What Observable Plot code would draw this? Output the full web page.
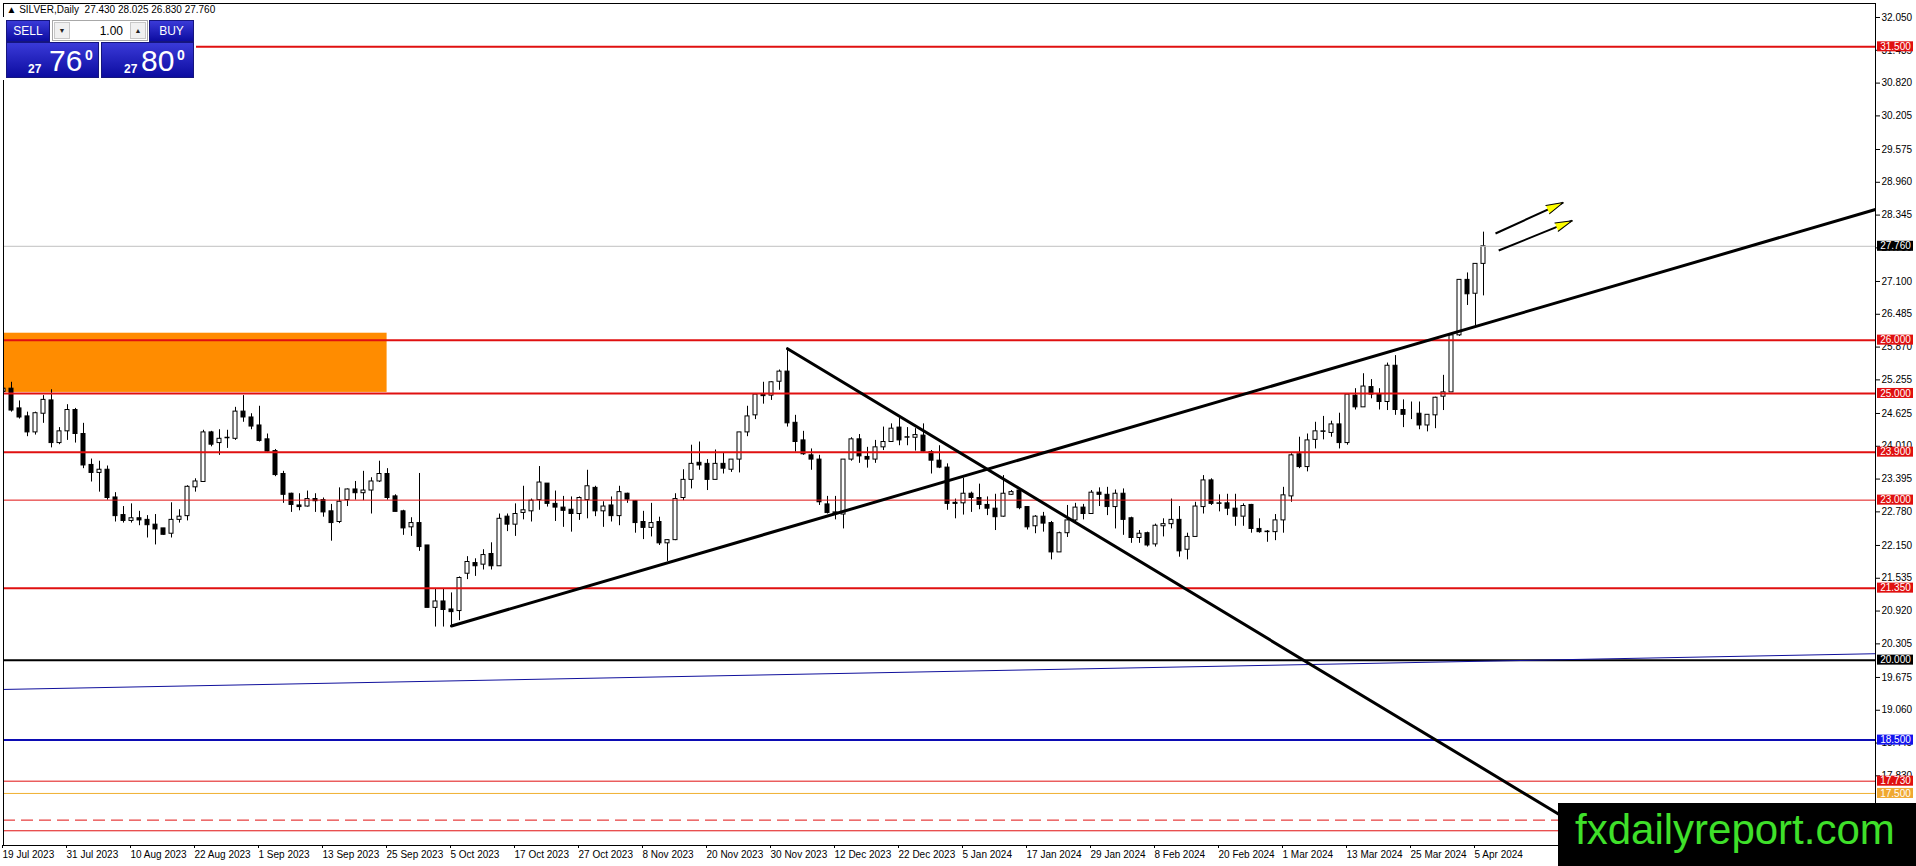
<!DOCTYPE html>
<html>
<head>
<meta charset="utf-8">
<script src="https://cdn.jsdelivr.net/npm/d3@7"></script>
<script src="https://cdn.jsdelivr.net/npm/@observablehq/plot@0.6"></script>
<style>
  body { margin: 0; background: #fff; overflow: hidden; font-family: "Liberation Sans", Arial, sans-serif; }
  #wrap { position: relative; width: 1916px; height: 866px; }
  #panel { position: absolute; left: 3px; top: 17px; width: 193px; height: 63px; background: #fff; }
  .blue { position: absolute; color: #fff; background: linear-gradient(#3a3ad8, #0c0ca0); box-sizing: border-box; border: 1px solid #15157e; }
  .hdr { height: 22px; top: 3px; font-size: 12px; line-height: 20px; text-align: center; }
  .box { top: 25px; width: 93px; height: 36px; }
  .box span { position: absolute; line-height: 1; white-space: nowrap; }
  .small { font-size: 12px; font-weight: bold; top: 20px; }
  .big { font-size: 30px; top: 3px; }
  .sup { font-size: 14px; font-weight: bold; top: 5px; }
  #spin { position: absolute; left: 49px; top: 3px; width: 96px; height: 21px; box-sizing: border-box; border: 1px solid #a8a8a8; background: #fff; font-size: 12px; }
  #spin .b { position: absolute; top: 1px; width: 16px; height: 17px; box-sizing: border-box; border: 1px solid #c8c8c8; background: #f0f0f0; font-size: 7px; line-height: 15px; text-align: center; color: #222; }
  #spin .v { position: absolute; right: 24px; top: 3px; }
  #logo { position: absolute; left: 1558px; top: 803px; width: 358px; height: 63px; background: #000; }
  #logo span { position: absolute; left: 17px; top: 6px; font-size: 42px; line-height: 1; color: #3fe02a; white-space: nowrap; }
</style>
</head>
<body>
<div id="wrap">
  <div id="chart"></div>
  <div id="panel">
    <div class="blue hdr" style="left:3px;width:44px;">SELL</div>
    <div id="spin"><div class="b" style="left:1px;">&#9660;</div><span class="v" id="lots"></span><div class="b" style="right:1px;">&#9650;</div></div>
    <div class="blue hdr" style="left:146px;width:45px;">BUY</div>
    <div class="blue box" style="left:3px;"><span class="small" style="left:21px;" id="bidA"></span><span class="big" style="left:42px;" id="bidB"></span><span class="sup" style="left:78px;" id="bidC"></span></div>
    <div class="blue box" style="left:98px;"><span class="small" style="left:22px;" id="askA"></span><span class="big" style="left:39px;" id="askB"></span><span class="sup" style="left:75px;" id="askC"></span></div>
  </div>
  <div id="logo"><span>fxdailyreport.com</span></div>
</div>
<script>
// velas diarias de plata, 19 jul 2023 - 8 abr 2024 (una por sesion)
const openP = [25.03,25.09,24.72,24.57,24.27,24.62,24.87,24.07,24.29,24.69,24.24,23.66,23.51,23.57,23.05,22.72,22.61,22.66,22.63,22.54,
  22.47,22.37,22.63,22.70,23.24,23.34,24.27,24.07,24.16,24.15,24.66,24.55,24.40,24.14,23.92,23.49,23.12,22.90,22.88,23.02,
  23.00,22.79,22.59,23.00,23.20,23.13,23.18,23.35,23.49,23.07,22.79,22.49,22.57,22.15,20.98,21.10,20.95,20.92,21.62,21.82,
  21.79,21.99,21.76,22.69,22.54,22.76,22.79,23.00,23.31,22.93,22.86,22.82,22.74,23.00,23.23,22.79,22.90,22.70,23.12,22.98,
  22.59,22.48,22.59,22.19,22.25,23.04,23.38,23.70,23.68,23.38,23.68,23.57,23.76,24.27,24.59,24.98,24.96,25.22,25.41,24.45,
  24.12,23.84,23.76,22.92,22.76,22.73,23.76,24.14,23.81,23.76,23.99,24.09,24.36,24.17,24.17,24.21,23.90,23.74,23.61,22.95,
  22.94,23.12,23.04,22.91,22.84,22.69,23.10,23.18,22.87,22.51,22.69,22.57,22.02,22.38,22.62,22.86,22.74,23.14,23.10,22.87,
  23.12,22.66,22.29,22.38,22.17,22.51,22.55,22.63,22.07,22.31,22.87,23.37,22.93,22.94,22.84,22.69,22.91,22.46,22.40,22.40,
  22.62,23.07,23.86,23.62,24.13,24.28,24.26,24.42,24.07,24.96,24.74,25.12,24.98,24.84,25.52,24.69,24.62,24.62,24.40,24.59,
  24.94,25.02,26.09,27.13,26.87,27.43];
const highP = [25.16,25.21,24.86,24.65,24.65,24.96,25.07,24.36,24.79,24.72,24.44,23.77,23.73,23.64,23.14,22.88,22.93,22.79,22.71,22.73,
  22.47,22.95,22.82,23.27,23.40,24.31,24.29,24.32,24.31,24.74,24.96,24.62,24.76,24.24,23.95,23.54,23.13,23.12,23.17,23.12,
  23.04,22.92,23.23,23.21,23.35,23.54,23.42,23.73,23.59,23.10,22.81,22.67,23.50,22.15,21.34,21.34,21.26,21.56,21.94,21.90,
  22.07,22.20,22.74,22.74,22.93,23.26,23.02,23.63,23.31,23.17,23.07,23.06,23.06,23.56,23.26,22.97,23.06,23.26,23.13,22.99,
  22.79,22.94,22.68,22.26,23.12,23.57,24.03,24.09,23.76,23.94,23.88,23.76,24.27,24.76,25.00,25.21,25.22,25.44,25.84,24.59,
  24.29,23.96,23.84,23.07,23.07,23.76,24.17,24.23,23.99,24.12,24.37,24.43,24.54,24.36,24.34,24.43,23.93,24.02,23.68,23.02,
  23.41,23.15,23.30,23.06,23.11,23.46,23.18,23.21,22.88,22.71,22.77,22.60,22.40,22.90,22.94,22.92,23.18,23.23,23.24,23.19,
  23.21,22.68,22.43,22.40,22.55,22.65,23.02,22.88,22.38,22.96,23.46,23.40,23.10,23.11,23.11,22.93,22.92,22.65,22.43,22.73,
  23.24,23.87,24.18,24.24,24.46,24.57,24.48,24.63,24.99,25.09,25.37,25.26,25.09,25.57,25.71,24.88,24.84,24.84,24.60,24.93,
  25.34,26.09,27.13,27.26,27.43,28.025];
const lowP = [24.88,24.65,24.52,24.19,24.22,24.44,23.98,24.04,24.12,24.07,23.59,23.34,23.15,23.00,22.59,22.57,22.57,22.52,22.29,22.16,
  22.34,22.29,22.57,22.61,23.15,23.34,24.00,23.84,23.97,24.12,24.46,24.32,24.09,23.90,23.44,22.94,22.77,22.80,22.87,22.77,
  22.68,22.23,22.56,22.88,23.00,22.99,22.74,23.33,23.00,22.78,22.34,22.32,22.04,20.98,20.62,20.62,20.65,20.74,21.51,21.57,
  21.69,21.69,21.76,22.41,22.32,22.63,22.59,22.81,22.87,22.60,22.49,22.40,22.62,22.65,22.69,22.49,22.59,22.52,22.94,22.38,
  22.26,22.31,22.15,21.85,22.24,22.99,23.21,23.56,23.18,23.38,23.49,23.52,23.51,24.19,24.51,24.80,24.87,25.06,24.37,23.90,
  23.84,23.56,22.90,22.74,22.63,22.46,23.73,23.69,23.60,23.69,23.93,24.09,24.02,24.02,23.92,23.90,23.49,23.59,22.81,22.65,
  22.72,22.77,22.82,22.71,22.43,22.68,23.09,22.82,22.44,22.37,22.40,21.88,22.02,22.30,22.56,22.63,22.74,22.88,22.71,22.46,
  22.34,22.19,22.19,22.12,22.12,22.31,22.46,21.93,21.88,22.31,22.74,22.90,22.78,22.71,22.51,22.51,22.38,22.38,22.21,22.24,
  22.38,22.96,23.59,23.53,23.96,24.13,24.18,23.96,24.03,24.69,24.74,24.90,24.69,24.68,24.59,24.36,24.51,24.32,24.28,24.34,
  24.68,25.02,26.07,26.65,26.27,26.83];
const closeP = [25.09,24.68,24.55,24.27,24.63,24.88,24.07,24.29,24.69,24.24,23.65,23.51,23.57,23.04,22.70,22.61,22.66,22.62,22.53,22.45,
  22.35,22.63,22.69,23.25,23.35,24.27,24.04,24.15,24.17,24.66,24.55,24.38,24.11,23.91,23.47,23.10,22.91,22.87,23.02,22.98,
  22.77,22.57,22.97,23.20,23.13,23.18,23.35,23.49,23.04,22.78,22.47,22.57,22.12,20.98,21.10,20.94,20.90,21.54,21.84,21.76,
  21.97,21.76,22.65,22.54,22.74,22.81,22.99,23.33,22.93,22.86,22.80,22.74,23.04,23.26,22.79,22.88,22.70,23.15,23.01,22.57,
  22.48,22.57,22.19,22.25,23.02,23.38,23.68,23.65,23.38,23.68,23.59,23.76,24.27,24.57,24.98,24.95,25.21,25.41,24.44,24.09,
  23.86,23.76,22.96,22.76,22.77,23.76,24.14,23.82,23.76,23.99,24.09,24.34,24.12,24.18,24.22,23.91,23.74,23.61,22.93,22.93,
  23.12,23.04,22.91,22.84,22.68,23.12,23.15,22.85,22.49,22.69,22.56,22.02,22.38,22.62,22.86,22.74,23.14,23.10,22.87,23.12,
  22.63,22.29,22.37,22.15,22.52,22.55,22.63,22.04,22.31,22.88,23.37,22.93,22.94,22.84,22.69,22.89,22.46,22.40,22.41,22.62,
  23.09,23.84,23.62,24.12,24.29,24.29,24.42,24.07,24.98,24.74,25.13,24.98,24.84,25.52,24.69,24.60,24.62,24.40,24.60,24.92,
  25.02,26.09,27.13,26.86,27.43,27.76];

// etiquetas del eje de tiempo, una cada 8 velas
const dateLabels = ["19 Jul 2023","31 Jul 2023","10 Aug 2023","22 Aug 2023","1 Sep 2023","13 Sep 2023","25 Sep 2023","5 Oct 2023",
  "17 Oct 2023","27 Oct 2023","8 Nov 2023","20 Nov 2023","30 Nov 2023","12 Dec 2023","22 Dec 2023","5 Jan 2024","17 Jan 2024",
  "29 Jan 2024","8 Feb 2024","20 Feb 2024","1 Mar 2024","13 Mar 2024","25 Mar 2024","5 Apr 2024"];
const yTicks = [32.050,31.435,30.820,30.205,29.575,28.960,28.345,27.730,27.100,26.485,25.870,25.255,24.625,24.010,23.395,
  22.780,22.150,21.535,20.920,20.305,19.675,19.060,18.445,17.830,17.200,16.585];

// niveles horizontales dibujados
const redThick = [31.5, 26.0, 25.0, 23.9, 21.35];
const redThin = [23.0, 17.73, 16.8];
const redDashed = [17.0];
const blackLevel = [20.0];
const blueLevel = [18.5];
const orangeLevel = [17.5];

// objetos: zona, lineas de tendencia y flechas (vela, precio)
const zone = [{x1: -1, x2: 47.95, y1: 25.02, y2: 26.13}];
const trendUp = [{bar: 56, price: 20.64}, {bar: 234, price: 28.45}];
const trendDown = [{bar: 98, price: 25.84}, {bar: 210, price: 15.70}];
const blueTrend = [{bar: 0, price: 19.45}, {bar: 234, price: 20.12}];
const arrows = [
  {x1: 186.5, y1: 28.00, x2: 194.96, y2: 28.58},
  {x1: 186.9, y1: 27.68, x2: 196.1, y2: 28.24}
];
const bid = 27.760, ask = 27.800, lots = 1.00;

const f3 = d3.format(".3f");
const n = closeP.length;
const candles = d3.range(n).map(i => ({i, o: openP[i], h: highP[i], l: lowP[i], c: closeP[i]}));
const last = candles[n - 1];
const labelBars = dateLabels.map((d, k) => k * 8);

// angulo en pantalla de cada flecha (8 px por vela, 53.33 px por unidad de precio)
const angle = a => Math.atan2((a.x2 - a.x1) * 8, (a.y2 - a.y1) * 53.33) * 180 / Math.PI;

const tag = (vals, color) => [
  Plot.rect(vals, {x1: 234.25, x2: 238.75, y1: d => d - 0.094, y2: d => d + 0.094, fill: color}),
  Plot.text(vals, {x: 236.5, y: d => d, text: d => f3(d), fill: "white", fontSize: 10})
];

let chart = Plot.plot({
  width: 1916,
  height: 866,
  marginLeft: 3,
  marginRight: 41,
  marginTop: 3,
  marginBottom: 21,
  x: {domain: [0, 234], axis: null},
  y: {domain: [16.524, 32.3125], axis: null},
  style: {fontFamily: "'Liberation Sans', Arial, sans-serif", fontSize: "10px", background: "white", color: "black", overflow: "visible"},
  marks: [
    Plot.rect(zone, {x1: "x1", x2: "x2", y1: "y1", y2: "y2", fill: "#ff8c00", clip: true}),
    Plot.ruleX(candles, {x: "i", y1: "l", y2: "h", stroke: "black"}),
    Plot.rect(candles, {x1: d => d.i - 0.25, x2: d => d.i + 0.25, y1: "o", y2: "c",
      fill: d => d.c < d.o ? "black" : "white", stroke: "black", strokeWidth: 1, clip: true}),
    Plot.ruleY([last.c], {stroke: "#c0c0c0", strokeWidth: 1}),
    Plot.ruleY(redThick, {stroke: "#e01010", strokeWidth: 2}),
    Plot.ruleY(redThin, {stroke: "#e01010", strokeWidth: 1}),
    Plot.ruleY(redDashed, {stroke: "#e01010", strokeWidth: 1, strokeDasharray: "12,6"}),
    Plot.ruleY(blackLevel, {stroke: "black", strokeWidth: 2}),
    Plot.ruleY(blueLevel, {stroke: "#0c0cb4", strokeWidth: 2}),
    Plot.ruleY(orangeLevel, {stroke: "#f0b030", strokeWidth: 1}),
    Plot.line(blueTrend, {x: "bar", y: "price", stroke: "#10109c", strokeWidth: 1}),
    Plot.line(trendUp, {x: "bar", y: "price", stroke: "black", strokeWidth: 3, clip: true}),
    Plot.line(trendDown, {x: "bar", y: "price", stroke: "black", strokeWidth: 3, clip: true}),
    Plot.link(arrows, {x1: "x1", y1: "y1", x2: "x2", y2: "y2", stroke: "black", strokeWidth: 2}),
    Plot.vector(arrows, {x: "x2", y: "y2", rotate: angle, length: 17, r: 4.5, shape: "spike", anchor: "end",
      fill: "#ffff00", stroke: "black", strokeWidth: 1}),
    Plot.frame({stroke: "black"}),
    Plot.axisY({anchor: "right", ticks: yTicks, tickFormat: f3, tickSize: 4, tickPadding: 2, fontSize: 10}),
    Plot.axisX({anchor: "bottom", ticks: labelBars, tickFormat: d => dateLabels[d / 8], tickSize: 3, tickPadding: 2,
      textAnchor: "start", dx: -1, fontSize: 10}),
    ...tag([31.5, 26.0, 25.0, 23.9, 23.0, 21.35, 17.73], "#e01010"),
    ...tag([last.c, 20.0], "black"),
    ...tag([18.5], "#1414ee"),
    ...tag([17.5], "#f0a830"),
    Plot.text([`\u25B2 SILVER,Daily\u00a0\u00a0${f3(last.o)} ${f3(last.h)} ${f3(last.l)} ${f3(last.c)}`],
      {frameAnchor: "top-left", dx: 3, dy: 2, textAnchor: "start", lineAnchor: "top", fontSize: 10})
  ]
});
d3.select('#chart').append(() => chart);

// panel de operaciones
const parts = p => { const s = p.toFixed(3); return [s.slice(0, 2), s.slice(3, 5), s.slice(5)]; };
const [ba, bb, bc] = parts(bid), [aa, ab, ac] = parts(ask);
d3.select('#bidA').text(ba); d3.select('#bidB').text(bb); d3.select('#bidC').text(bc);
d3.select('#askA').text(aa); d3.select('#askB').text(ab); d3.select('#askC').text(ac);
d3.select('#lots').text(lots.toFixed(2));
</script>
</body>
</html>
